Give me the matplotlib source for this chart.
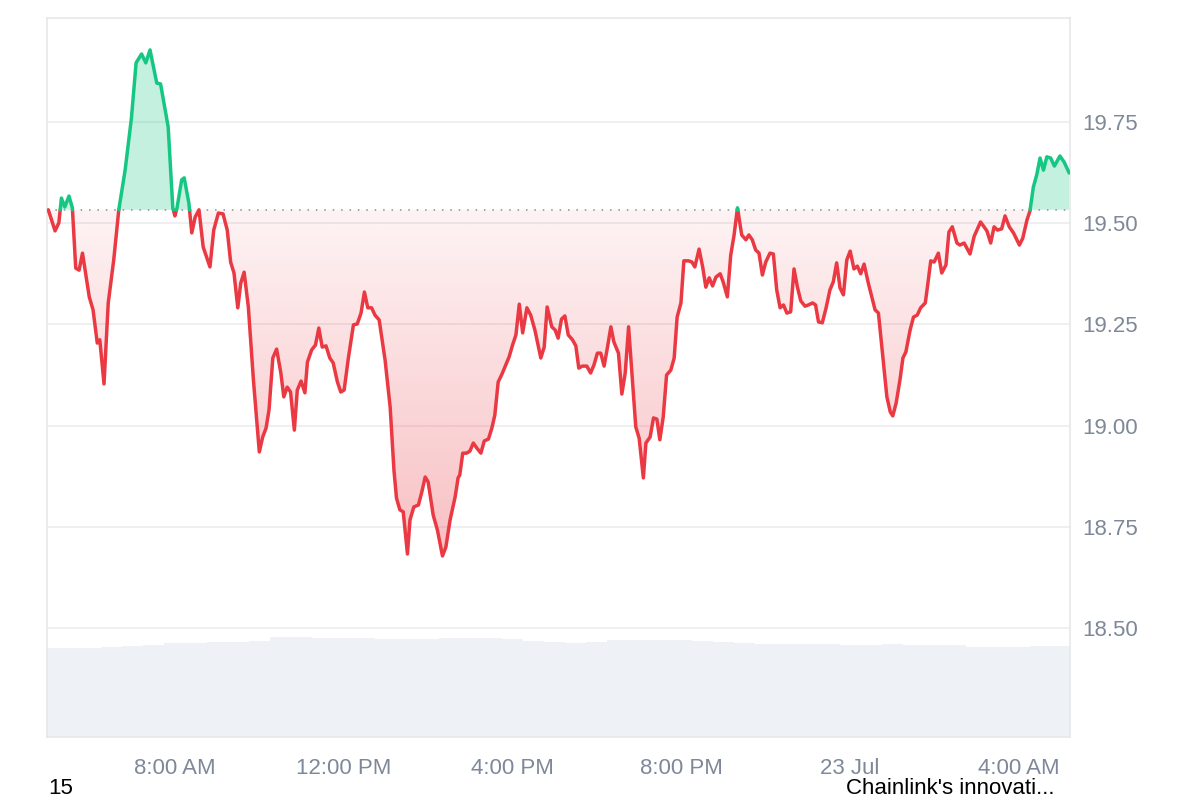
import matplotlib
matplotlib.use("Agg")
import matplotlib.pyplot as plt
import numpy as np
from matplotlib.path import Path
from matplotlib.patches import PathPatch

plt.rcParams['font.family'] = ['Liberation Sans', 'DejaVu Sans']

# price reference (open of the window)
open_price = 19.533

# hours since midnight 22 Jul
hours = [
    5.00, 5.16, 5.25, 5.31, 5.39, 5.49, 5.57, 5.65, 5.73, 5.81,
    5.97, 6.06, 6.16, 6.22, 6.32, 6.42, 6.55, 6.67, 6.82, 6.97,
    7.08, 7.21, 7.31, 7.41, 7.57, 7.66, 7.84, 7.95, 8.00, 8.05,
    8.16, 8.22, 8.33, 8.40, 8.48, 8.57, 8.67, 8.83, 8.92, 9.03,
    9.14, 9.24, 9.32, 9.40, 9.49, 9.56, 9.64, 9.74, 9.86, 10.00,
    10.08, 10.16, 10.23, 10.32, 10.41, 10.51, 10.58, 10.66, 10.74, 10.83,
    10.90, 10.99, 11.08, 11.14, 11.24, 11.33, 11.41, 11.49, 11.58, 11.67,
    11.75, 11.85, 11.93, 12.01, 12.11, 12.23, 12.32, 12.41, 12.49, 12.57,
    12.66, 12.74, 12.84, 12.98, 13.10, 13.19, 13.25, 13.33, 13.41, 13.51,
    13.57, 13.66, 13.77, 13.85, 13.93, 14.00, 14.12, 14.22, 14.34, 14.42,
    14.52, 14.64, 14.71, 14.75, 14.82, 14.91, 14.99, 15.07, 15.15, 15.25,
    15.33, 15.43, 15.51, 15.58, 15.66, 15.74, 15.84, 15.92, 16.00, 16.08,
    16.16, 16.24, 16.34, 16.43, 16.53, 16.67, 16.75, 16.82, 16.93, 17.01,
    17.08, 17.16, 17.24, 17.32, 17.42, 17.50, 17.57, 17.65, 17.76, 17.85,
    17.93, 18.01, 18.09, 18.17, 18.25, 18.33, 18.40, 18.51, 18.59, 18.67,
    18.75, 18.84, 18.92, 19.00, 19.10, 19.16, 19.26, 19.34, 19.42, 19.49,
    19.57, 19.65, 19.75, 19.83, 19.90, 19.99, 20.06, 20.17, 20.25, 20.32,
    20.42, 20.51, 20.58, 20.66, 20.74, 20.82, 20.92, 20.99, 21.09, 21.17,
    21.25, 21.33, 21.43, 21.53, 21.60, 21.68, 21.76, 21.84, 21.92, 22.00,
    22.10, 22.18, 22.26, 22.34, 22.42, 22.50, 22.59, 22.67, 22.75, 22.83,
    22.93, 23.01, 23.11, 23.18, 23.25, 23.34, 23.43, 23.52, 23.60, 23.68,
    23.76, 23.84, 23.92, 24.00, 24.09, 24.17, 24.25, 24.33, 24.43, 24.59,
    24.67, 24.79, 24.87, 24.95, 25.01, 25.09, 25.18, 25.25, 25.32, 25.42,
    25.50, 25.59, 25.67, 25.78, 25.83, 25.91, 25.99, 26.09, 26.17, 26.27,
    26.34, 26.42, 26.53, 26.60, 26.70, 26.84, 26.94, 27.09, 27.24, 27.33,
    27.41, 27.49, 27.59, 27.67, 27.77, 27.87, 28.01, 28.09, 28.19, 28.26,
    28.34, 28.42, 28.50, 28.58, 28.66, 28.75, 28.84, 28.97, 29.07, 29.19]

prices = [
    19.533, 19.481, 19.501, 19.562, 19.540, 19.567, 19.538, 19.389, 19.384, 19.426,
    19.318, 19.286, 19.204, 19.212, 19.103, 19.303, 19.409, 19.533, 19.631, 19.760,
    19.896, 19.918, 19.896, 19.928, 19.846, 19.844, 19.738, 19.538, 19.518, 19.538,
    19.607, 19.612, 19.550, 19.476, 19.515, 19.533, 19.441, 19.392, 19.483, 19.525,
    19.523, 19.483, 19.404, 19.377, 19.291, 19.352, 19.379, 19.293, 19.113, 18.935,
    18.972, 18.994, 19.039, 19.167, 19.189, 19.130, 19.071, 19.095, 19.083, 18.989,
    19.088, 19.110, 19.081, 19.157, 19.187, 19.199, 19.241, 19.194, 19.197, 19.167,
    19.155, 19.108, 19.083, 19.088, 19.167, 19.249, 19.251, 19.278, 19.330, 19.291,
    19.291, 19.273, 19.261, 19.162, 19.046, 18.890, 18.821, 18.792, 18.787, 18.683,
    18.767, 18.799, 18.804, 18.836, 18.873, 18.861, 18.779, 18.742, 18.678, 18.700,
    18.767, 18.824, 18.871, 18.878, 18.932, 18.932, 18.937, 18.957, 18.945, 18.932,
    18.962, 18.967, 18.994, 19.026, 19.108, 19.125, 19.150, 19.170, 19.199, 19.224,
    19.300, 19.229, 19.291, 19.273, 19.236, 19.167, 19.194, 19.293, 19.244, 19.236,
    19.216, 19.263, 19.271, 19.224, 19.212, 19.197, 19.142, 19.147, 19.147, 19.130,
    19.150, 19.179, 19.179, 19.147, 19.194, 19.244, 19.207, 19.179, 19.078, 19.130,
    19.244, 19.113, 18.997, 18.969, 18.871, 18.957, 18.972, 19.019, 19.016, 18.965,
    19.021, 19.125, 19.137, 19.167, 19.268, 19.303, 19.407, 19.407, 19.404, 19.392,
    19.436, 19.389, 19.342, 19.365, 19.345, 19.367, 19.375, 19.355, 19.318, 19.421,
    19.471, 19.538, 19.471, 19.459, 19.471, 19.459, 19.434, 19.426, 19.372, 19.404,
    19.426, 19.424, 19.335, 19.291, 19.298, 19.278, 19.281, 19.387, 19.342, 19.308,
    19.295, 19.298, 19.303, 19.298, 19.256, 19.254, 19.291, 19.335, 19.355, 19.402,
    19.340, 19.323, 19.409, 19.431, 19.387, 19.394, 19.375, 19.399, 19.352, 19.286,
    19.278, 19.155, 19.071, 19.034, 19.024, 19.056, 19.113, 19.167, 19.182, 19.236,
    19.268, 19.273, 19.291, 19.303, 19.342, 19.407, 19.404, 19.426, 19.377, 19.397,
    19.478, 19.491, 19.451, 19.446, 19.451, 19.424, 19.468, 19.503, 19.481, 19.451,
    19.491, 19.483, 19.486, 19.518, 19.491, 19.476, 19.446, 19.463, 19.508, 19.530,
    19.589, 19.619, 19.661, 19.631, 19.664, 19.661, 19.641, 19.666, 19.651, 19.624]

# volume (millions), half-hourly
vol_hours = [
    5.0, 5.5, 6.0, 6.5, 7.0, 7.5, 8.0, 8.5, 9.0, 9.5,
    10.0, 10.5, 11.0, 11.5, 12.0, 12.5, 13.0, 13.5, 14.0, 14.5,
    15.0, 15.5, 16.0, 16.5, 17.0, 17.5, 18.0, 18.5, 19.0, 19.5,
    20.0, 20.5, 21.0, 21.5, 22.0, 22.5, 23.0, 23.5, 24.0, 24.5,
    25.0, 25.5, 26.0, 26.5, 27.0, 27.5, 28.0, 28.5, 29.0]
volumes = [
    445, 445, 445, 450, 455, 460, 470, 470, 475, 475,
    480, 500, 500, 495, 495, 495, 490, 490, 490, 495,
    495, 495, 490, 480, 475, 470, 475, 485, 485, 485,
    485, 480, 475, 470, 465, 465, 465, 465, 460, 460,
    465, 460, 460, 460, 450, 450, 450, 455, 455]

tick_hours = [8, 12, 16, 20, 24, 28]
tick_labels = ["8:00 AM", "12:00 PM", "4:00 PM", "8:00 PM", "23 Jul", "4:00 AM"]
price_ticks = [18.50, 18.75, 19.00, 19.25, 19.50, 19.75]

green = "#16c784"
red = "#ea3943"
grey_txt = "#7f8899"
xlim = (4.97, 29.21)

fig = plt.figure(figsize=(12, 8), dpi=100)
rect = [0.0392, 0.0788, 0.8525, 0.8988]

# volume axes behind
axv = fig.add_axes(rect)
axv.bar(vol_hours, volumes, width=0.5, color="#eef1f5", linewidth=0)
axv.set_ylim(0, max(volumes) * 7.19)
axv.set_xlim(*xlim)
axv.axis("off")

ax = fig.add_axes(rect, sharex=axv)
ax.patch.set_visible(False)

# insert crossing points so the colour switches exactly at the open price
t = np.array(hours)
p = np.array(prices)
tt, pp = [t[0]], [p[0]]
for i in range(1, len(t)):
    a, b = p[i - 1] - open_price, p[i] - open_price
    if a * b < 0:
        f = a / (a - b)
        tt.append(t[i - 1] + f * (t[i] - t[i - 1]))
        pp.append(open_price)
    tt.append(t[i])
    pp.append(p[i])
tt, pp = np.array(tt), np.array(pp)

# green area above open
ax.fill_between(tt, pp, open_price, where=pp >= open_price, interpolate=True,
                color=green, alpha=0.25, linewidth=0, zorder=2)

# red gradient area below open
poly = ax.fill_between(tt, pp, open_price, where=pp <= open_price, interpolate=True,
                       facecolor="none", linewidth=0)
clip = PathPatch(Path.make_compound_path(*poly.get_paths()), transform=ax.transData,
                 facecolor="none", edgecolor="none")
ax.add_patch(clip)
n = 256
grad = np.zeros((n, 1, 4))
grad[..., :3] = matplotlib.colors.to_rgb(red)
grad[:, 0, 3] = np.linspace(0.32, 0.06, n)
im = ax.imshow(grad, extent=[xlim[0], xlim[1], min(prices), open_price],
               origin="lower", aspect="auto", zorder=2, interpolation="bilinear")
im.set_clip_path(clip)

up = np.where(pp >= open_price, pp, np.nan)
dn = np.where(pp <= open_price, pp, np.nan)
ax.plot(tt, dn, color=red, lw=2.5, zorder=4, solid_joinstyle="round", solid_capstyle="round")
ax.plot(tt, up, color=green, lw=2.5, zorder=4, solid_joinstyle="round", solid_capstyle="round")

ax.axhline(open_price, color="#8a8f99", lw=1.1, ls=(0, (1, 4.5)), zorder=3)

ax.set_xlim(*xlim)
ax.set_ylim(18.231, 20.007)
ax.set_yticks(price_ticks)
ax.set_yticklabels([f"{v:.2f}" for v in price_ticks])
ax.set_xticks(tick_hours)
ax.set_xticklabels(tick_labels)
ax.yaxis.tick_right()
ax.tick_params(axis="both", length=0, labelsize=16, labelcolor=grey_txt)
ax.tick_params(axis="x", pad=15)
ax.tick_params(axis="y", pad=9)
ax.grid(axis="y", color="#ececef", lw=1.2, zorder=0)
ax.set_axisbelow(True)
for s in ax.spines.values():
    s.set_color("#e6e7ea")
    s.set_linewidth(1.2)

fig.text(48 / 1200, 0.007, "15", fontsize=16, color="black", ha="left", va="baseline")
fig.text(1055 / 1200, 0.007, "Chainlink's innovati...", fontsize=16, color="black",
         ha="right", va="baseline")

fig.savefig("out.png", dpi=100)
